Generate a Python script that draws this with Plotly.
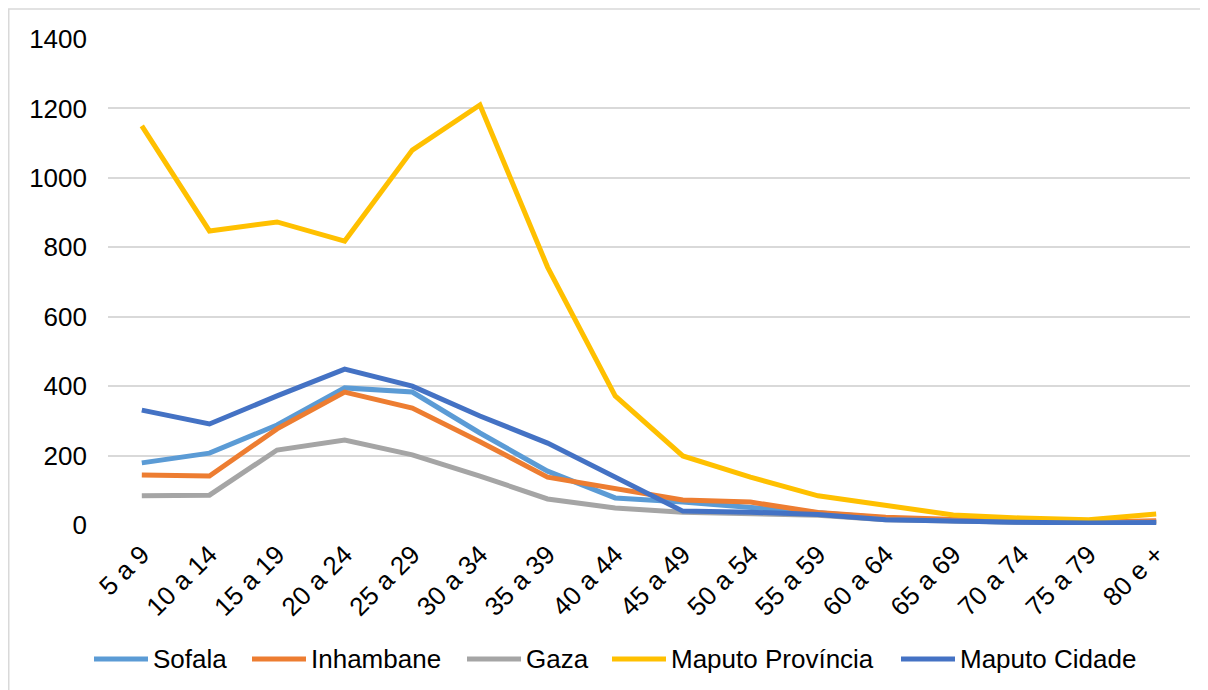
import plotly.graph_objects as go

categories = ["5 a 9", "10 a 14", "15 a 19", "20 a 24", "25 a 29", "30 a 34", "35 a 39",
              "40 a 44", "45 a 49", "50 a 54", "55 a 59", "60 a 64", "65 a 69", "70 a 74",
              "75 a 79", "80 e +"]

sofala = [179, 207, 288, 395, 383, 265, 155, 78, 66, 49, 35, 20, 12, 8, 6, 10]
inhambane = [144, 141, 277, 383, 337, 240, 138, 104, 72, 66, 36, 22, 15, 10, 8, 12]
gaza = [84, 86, 216, 245, 202, 141, 75, 49, 37, 33, 28, 15, 10, 8, 6, 8]
maputo_provincia = [1150, 847, 873, 818, 1080, 1210, 743, 372, 199, 138, 84, 58, 29, 20, 15, 32]
maputo_cidade = [331, 291, 372, 449, 400, 314, 236, 138, 40, 37, 30, 15, 10, 8, 6, 7]

series = [
    ("Sofala", sofala, "#5B9BD5"),
    ("Inhambane", inhambane, "#ED7D31"),
    ("Gaza", gaza, "#A5A5A5"),
    ("Maputo Província", maputo_provincia, "#FFC000"),
    ("Maputo Cidade", maputo_cidade, "#4472C4"),
]

LW = 5

fig = go.Figure()
for name, vals, color in series:
    fig.add_trace(go.Scatter(x=categories, y=vals, name=name, mode="lines",
                             line=dict(color=color, width=LW), showlegend=False))

font_family = "Liberation Sans, Arial, sans-serif"
FS = 26
# page body has an 8px margin; figure is sized/margined to compensate
W, H = 1200, 682
L, R, T, B = 100, 18, 31, 165
pw = W - L - R
ph = H - T - B
OFF = 8  # body margin


def px_to_paper_x(px):
    return (px - OFF - L) / pw


def py_to_paper_y(py):
    return (H - B - (py - OFF)) / ph


# custom legend (symbol start positions in page pixels)
legend_x0 = [94, 252, 467, 612, 901]
legend_y = 659
sym_len = 54

shapes = [dict(type="rect", xref="paper", yref="paper",
               x0=px_to_paper_x(8.75), x1=1.05, y0=-0.4, y1=py_to_paper_y(9),
               line=dict(color="#D9D9D9", width=1.5), fillcolor="rgba(0,0,0,0)",
               layer="below")]
annotations = []
for (name, vals, color), x0 in zip(series, legend_x0):
    shapes.append(dict(type="line", xref="paper", yref="paper",
                       x0=px_to_paper_x(x0), x1=px_to_paper_x(x0 + sym_len),
                       y0=py_to_paper_y(legend_y), y1=py_to_paper_y(legend_y),
                       line=dict(color=color, width=LW)))
    annotations.append(dict(xref="paper", yref="paper", x=px_to_paper_x(x0 + sym_len + 4),
                            y=py_to_paper_y(legend_y), xanchor="left", yanchor="middle",
                            text=name, showarrow=False, borderpad=0,
                            font=dict(size=FS, color="#000000", family=font_family)))

fig.update_layout(
    width=W, height=H,
    margin=dict(l=L, r=R, t=T, b=B, autoexpand=False),
    paper_bgcolor="white", plot_bgcolor="white",
    font=dict(family=font_family, size=FS, color="#000000"),
    showlegend=False,
    xaxis=dict(type="category", tickangle=-45, showgrid=False, showline=False,
               ticks="", tickfont=dict(size=FS), range=[-0.5, 15.5], ticklabelstandoff=8,
               automargin=False),
    yaxis=dict(range=[0, 1400], dtick=200, showgrid=True, gridcolor="#D9D9D9",
               gridwidth=1.5, zeroline=False, showline=False, ticks="",
               tickfont=dict(size=FS), ticklabelstandoff=20, automargin=False),
    shapes=shapes,
    annotations=annotations,
)

fig.write_html("out.html")
